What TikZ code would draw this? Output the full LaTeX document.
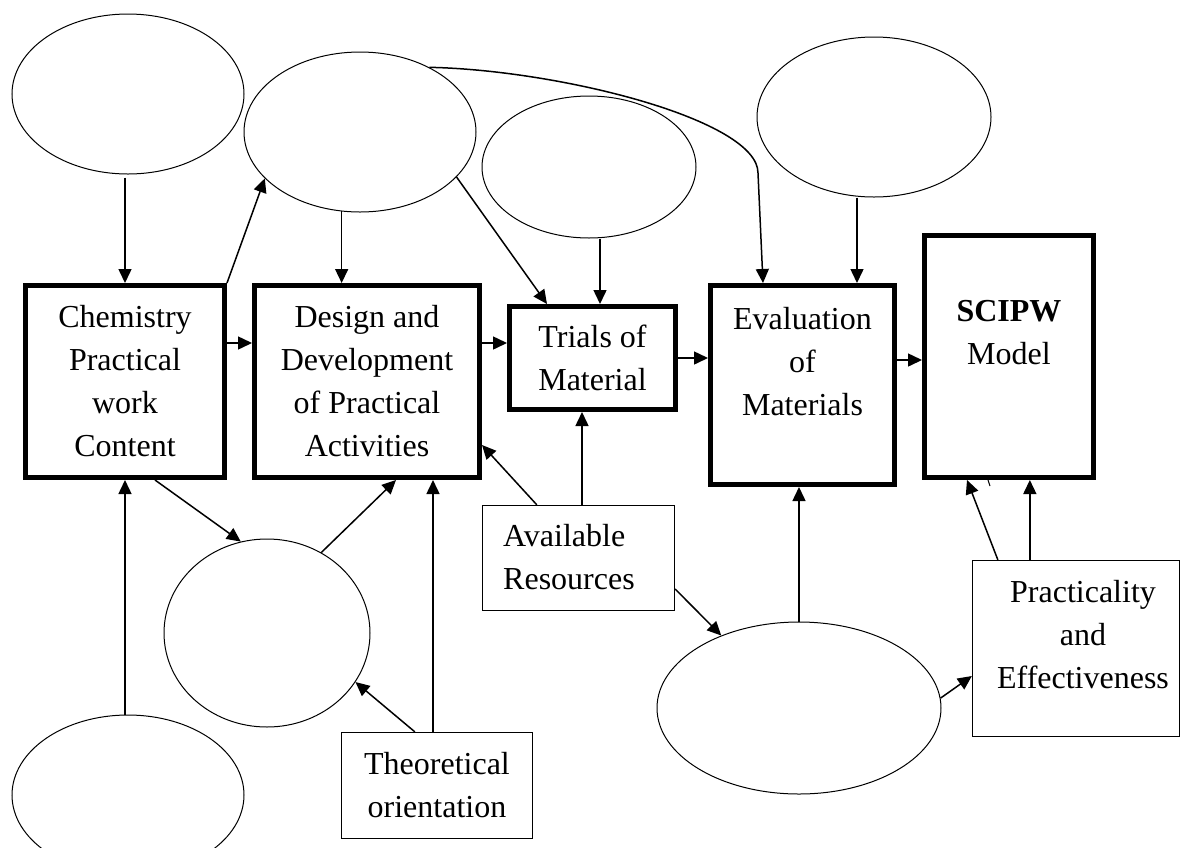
\documentclass[tikz,border=0pt]{standalone}
\usepackage{fontspec}
\setmainfont{Liberation Serif}
\usetikzlibrary{arrows.meta,shapes.geometric,calc}
\begin{document}
\begin{tikzpicture}[x=1pt,y=-1pt,
  every node/.style={font=\fontsize{32}{43}\selectfont},
  thickbox/.style={draw, line width=5pt, inner sep=0pt, align=center},
  thinbox/.style={draw, line width=1.3pt, inner sep=0pt, align=center},
  oval/.style={draw, ellipse, line width=1pt, inner sep=0pt},
  txt/.style={inner sep=0pt, align=center},
  arr/.style={-{Triangle[length=14pt,width=13pt]}, line width=1.5pt}]
\useasboundingbox (0,0) rectangle (1184,847);
\clip (0,0) rectangle (1184,847);
\fill[white] (0,0) rectangle (1184,847);

% ellipses
\node[oval, minimum width=232pt, minimum height=160pt] (E1) at (128,94) {};
\node[oval, minimum width=232pt, minimum height=160pt] (E2) at (360,132) {};
\node[oval, minimum width=214pt, minimum height=142pt] (E3) at (589,167) {};
\node[oval, minimum width=234pt, minimum height=160pt] (E4) at (874,117) {};
\node[oval, minimum width=206pt, minimum height=188pt] (E5) at (267,633) {};
\node[oval, minimum width=232pt, minimum height=160pt] (E6) at (128,795) {};
\node[oval, minimum width=284pt, minimum height=172pt] (E7) at (799,708) {};

% thick boxes
\node[thickbox, minimum width=199pt, minimum height=192pt] (A) at (125,381.5) {Chemistry\\Practical\\work\\Content};
\node[thickbox, minimum width=225pt, minimum height=192pt] (B) at (367,381.5) {Design and\\Development\\of Practical\\Activities};
\node[thickbox, minimum width=166pt, minimum height=103pt] (C) at (592.5,358) {Trials of\\Material};
\node[thickbox, minimum width=184pt, minimum height=199pt] (D) at (802.5,385) {};
\node[txt] (Dt) at (802.5,362) {Evaluation\\of\\Materials};
\node[thickbox, minimum width=169pt, minimum height=242pt] (E) at (1009,356.5) {};
\node[txt] (Et) at (1009,333) {\textbf{SCIPW}\\Model};

% thin boxes
\node[thinbox, minimum width=192pt, minimum height=105pt] (F) at (578.5,558) {};
\node[txt, align=left, anchor=west] (Ft) at (503,557) {Available\\Resources};
\node[thinbox, minimum width=207pt, minimum height=176pt] (G) at (1076,648.5) {};
\node[txt] (Gt) at (1083,635) {Practicality\\and\\Effectiveness};
\node[thinbox, minimum width=191pt, minimum height=106pt] (H) at (437,785.5) {Theoretical\\orientation};

% connectors
\draw[arr, shorten <=3pt] (E1.south -| A.north) -- (A.north);
\draw[arr] (A.north east) -- (E2.206);
\draw[arr] (E2.257) -- (E2.257 |- B.north);
\draw[arr] (E2.335) -- ($(C.north west)+(40,0)$);
\draw[arr] ($(E3.south)+(11,0)$) -- ($(C.north)+(7.5,0)$);
\coordinate (ab) at ($(A.east)+(0,-38.5)$);
\draw[arr] (ab) -- (ab -| B.west);
\coordinate (bc) at ($(B.east)+(0,-38.5)$);
\draw[arr] (bc) -- (bc -| C.west);
\draw[arr] (C.east) -- (C.east -| D.west);
\coordinate (de) at ($(D.east)+(0,-25)$);
\draw[arr] (de) -- (de -| E.west);
\draw[arr] (E2.43) .. controls (560,70) and (758,120) .. (758,173) -- ($(D.north)+(-39.5,0)$);
\draw[arr] ($(E4.south)+(-17,0)$) -- ($(D.north)+(54.5,0)$);
\draw[arr] ($(F.north west)+(55,0)$) -- ($(B.south east)+(0,-35)$);
\draw[arr] ($(F.north)+(3.5,0)$) -- ($(C.south)+(-10.5,0)$);
\draw[arr] ($(F.east)+(0,31)$) -- (E7.137);
\draw[arr] (E7.north) -- (E7.north |- D.south);
\draw[arr] (E7.4) -- ($(G.west)+(0,27.5)$);
\draw[arr] ($(G.north west)+(26,0)$) -- ($(E.south west)+(45,0)$);
\coordinate (g2) at ($(G.north west)+(58,0)$);
\draw[arr] (g2) -- (g2 |- E.south);
\draw[line width=1pt] ($(E.south west)+(66,0)$) -- ++(2,6);
\draw[arr] ($(A.south)+(30,0)$) -- (E5.106);
\draw[arr] (E5.56) -- ($(B.south west)+(144,0)$);
\draw[arr] (E6.north -| A.south) -- (A.south);
\draw[arr] ($(H.north west)+(74,0)$) -- (E5.331);
\coordinate (h2) at ($(H.north)+(-4,0)$);
\draw[arr] (h2) -- (h2 |- B.south);
\end{tikzpicture}
\end{document}
